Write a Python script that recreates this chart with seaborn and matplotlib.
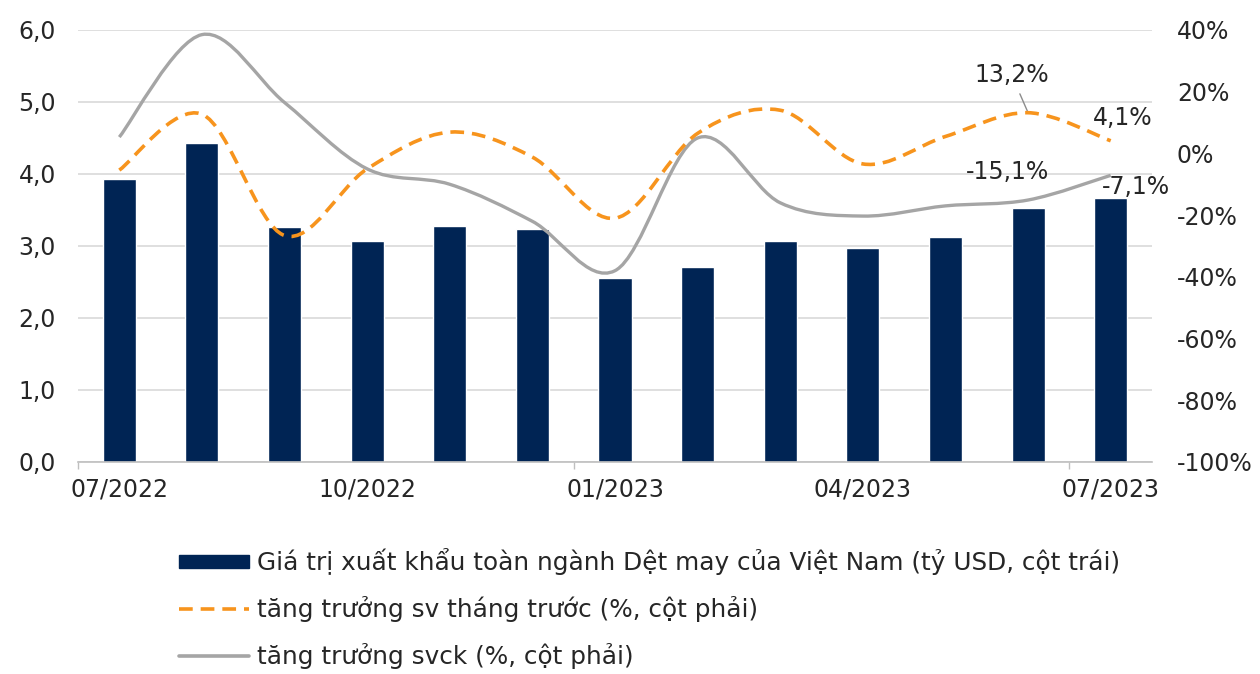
import numpy as np
import pandas as pd
import matplotlib
matplotlib.use("Agg")
import matplotlib.pyplot as plt
from matplotlib.path import Path
from matplotlib.patches import PathPatch
from matplotlib.lines import Line2D
from matplotlib.patches import Patch
import seaborn as sns

months = ["07/2022", "08/2022", "09/2022", "10/2022", "11/2022", "12/2022", "01/2023",
          "02/2023", "03/2023", "04/2023", "05/2023", "06/2023", "07/2023"]
export_value = [3.93, 4.43, 3.27, 3.07, 3.28, 3.24, 2.56, 2.71, 3.07, 2.97, 3.12, 3.53, 3.66]
mom_growth = [-5.4, 12.7, -26.6, -5.0, 6.9, -1.2, -21.0, 6.5, 14.0, -3.4, 5.5, 13.2, 4.1]
yoy_growth = [5.3, 38.5, 16.5, -5.0, -10.0, -22.0, -38.0, 5.0, -16.0, -20.3, -17.0, -15.1, -7.1]
shown_ticks = ["07/2022", "10/2022", "01/2023", "04/2023", "07/2023"]
left_ticks = [0, 1, 2, 3, 4, 5, 6]
right_ticks = [-100, -80, -60, -40, -20, 0, 20, 40]

legend_labels = ["Giá trị xuất khẩu toàn ngành Dệt may của Việt Nam (tỷ USD, cột trái)",
                 "tăng trưởng sv tháng trước (%, cột phải)",
                 "tăng trưởng svck (%, cột phải)"]

NAVY = "#002454"
ORANGE = "#f7941d"
GRAY = "#a5a5a5"
FS = 17
LFS = 17.8

sns.set_theme(style="white")
plt.rcParams["font.family"] = ["DejaVu Sans"]

fig = plt.figure(figsize=(12.6, 6.74), dpi=100)
ax = fig.add_axes([78 / 1260, 1 - 462 / 674, (1152 - 78) / 1260, (462 - 30) / 674])

df = pd.DataFrame({"month": months, "value": export_value})
sns.barplot(data=df, x="month", y="value", order=months, color=NAVY, width=0.4,
            saturation=1, ax=ax, zorder=2)
ax.set_xlim(-0.5, len(months) - 0.5)
ax.set_ylim(0, 6)
ax.set_yticks(left_ticks)
ax.set_yticklabels([f"{v:.1f}".replace(".", ",") for v in left_ticks])
ax.grid(axis="y", color="#d9d9d9", linewidth=1.2, zorder=0)
ax.set_axisbelow(True)
for s in ["top", "right", "left"]:
    ax.spines[s].set_visible(False)
ax.spines["bottom"].set_color("#bfbfbf")
ax.spines["bottom"].set_linewidth(1.2)
ax.set_xlabel("")
ax.set_ylabel("")
pos = [months.index(m) for m in shown_ticks]
ax.set_xticks(pos)
ax.set_xticklabels(shown_ticks)
ax.set_xticks([-0.5, 5.5, 11.5], minor=True)
ax.tick_params(axis="x", which="major", length=0, pad=11, labelsize=FS, colors="#262626")
ax.tick_params(axis="x", which="minor", length=5, width=1, color="#bfbfbf", bottom=True)
ax.tick_params(axis="y", length=0, pad=16, labelsize=FS, colors="#262626")

ax2 = ax.twinx()
ax2.set_ylim(-100, 40)
ax2.set_yticks(right_ticks)
ax2.set_yticklabels([f"{v}%" for v in right_ticks])
ax2.tick_params(axis="y", length=0, pad=18, labelsize=FS, colors="#262626")
for s in ax2.spines.values():
    s.set_visible(False)
ax2.grid(False)


def smooth_path(xs, ys):
    xs = np.asarray(xs, float)
    ys = np.asarray(ys, float)
    n = len(xs)
    verts = [(xs[0], ys[0])]
    codes = [Path.MOVETO]
    for i in range(n - 1):
        x0, y0 = (xs[i - 1], ys[i - 1]) if i > 0 else (xs[i], ys[i])
        x1, y1 = xs[i], ys[i]
        x2, y2 = xs[i + 1], ys[i + 1]
        x3, y3 = (xs[i + 2], ys[i + 2]) if i + 2 < n else (x2, y2)
        c1 = (x1 + (x2 - x0) / 6, y1 + (y2 - y0) / 6)
        c2 = (x2 - (x3 - x1) / 6, y2 - (y3 - y1) / 6)
        verts += [c1, c2, (x2, y2)]
        codes += [Path.CURVE4] * 3
    return Path(verts, codes)


xpos = np.arange(len(months))
ax2.add_patch(PathPatch(smooth_path(xpos, yoy_growth), facecolor="none", edgecolor=GRAY,
                        linewidth=2.4, capstyle="butt", zorder=3))
ax2.add_patch(PathPatch(smooth_path(xpos, mom_growth), facecolor="none", edgecolor=ORANGE,
                        linewidth=2.6, linestyle=(0, (3.8, 2.2)), capstyle="butt", zorder=4))

lab_kw = dict(fontsize=FS, color="#262626")
ax2.annotate("13,2%", xy=(11, mom_growth[11]), xytext=(10.8, 25.5), ha="center",
             va="center", arrowprops=dict(arrowstyle="-", color="#8c8c8c", lw=1,
                                          shrinkA=3, shrinkB=1), **lab_kw)
ax2.text(12.15, 11.5, "4,1%", ha="center", va="center", **lab_kw)
ax2.text(10.75, -6.0, "-15,1%", ha="center", va="center", **lab_kw)
ax2.text(12.3, -10.8, "-7,1%", ha="center", va="center", **lab_kw)

handles = [Patch(facecolor=NAVY, edgecolor=NAVY),
           Line2D([], [], color=ORANGE, lw=2.6, linestyle=(0, (3.8, 2.2))),
           Line2D([], [], color=GRAY, lw=2.6)]
fig.legend(handles, legend_labels, loc="upper left", bbox_to_anchor=(179 / 1260, 1 - 548 / 674),
           frameon=False, fontsize=LFS, handlelength=2.85, handleheight=0.45,
           handletextpad=0.3, labelspacing=0.85, borderaxespad=0, borderpad=0,
           labelcolor="#262626")

fig.savefig("out.png", dpi=100)
